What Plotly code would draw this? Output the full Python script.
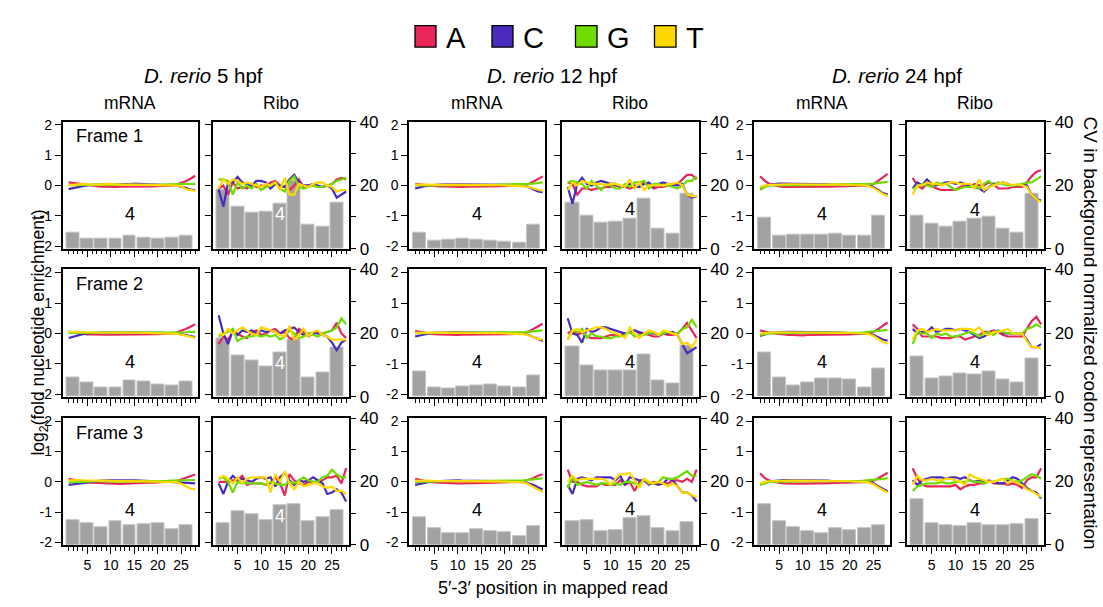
import plotly.graph_objects as go

# ---------------------------------------------------------------- data
read_pos = list(range(1, 29))                 # 5'-3' nucleotide position in the read
codon_pos = [2, 5, 8, 11, 14, 17, 20, 23, 26]  # centre of each codon window
nucleotides = ["A", "C", "G", "T"]
stages = ["5", "12", "24"]
libraries = ["mRNA", "Ribo"]
frames = ["Frame 1", "Frame 2", "Frame 3"]
log2_ticks = [-2, -1, 0, 1, 2]
log2_labels = ["-2", "-1", "0", "1", "2"]
cv_ticks = [0, 20, 40]
cv_minor_ticks = [10, 30]
pos_ticks = [5, 10, 15, 20, 25]
codon_label = "4"
codon_label_index = 4

# log2 fold nucleotide enrichment per position, mRNA libraries
mrna_5_f1 = {
    "A": [0.10, 0.08, 0.05, 0.02, 0.0, -0.02, -0.03, -0.04, -0.04, -0.05, -0.05, -0.04, -0.04, -0.05, -0.05, -0.05, -0.04, -0.04, -0.03, -0.02, -0.02, -0.01, 0.0, 0.03, 0.08, 0.14, 0.22, 0.32],
    "C": [-0.12, -0.08, -0.04, -0.02, 0.0, 0.02, 0.03, 0.03, 0.04, 0.04, 0.03, 0.04, 0.05, 0.04, 0.05, 0.05, 0.04, 0.03, 0.03, 0.02, 0.02, 0.01, 0.0, 0.0, -0.03, -0.08, -0.14, -0.15],
    "G": [0.02, 0.0, 0.01, 0.02, 0.02, 0.03, 0.03, 0.02, 0.02, 0.02, 0.03, 0.03, 0.02, 0.02, 0.01, 0.02, 0.02, 0.02, 0.03, 0.03, 0.03, 0.04, 0.04, 0.04, 0.05, 0.05, 0.05, 0.05],
    "T": [0.0, 0.02, 0.04, 0.05, 0.04, 0.03, 0.04, 0.03, 0.05, 0.04, 0.03, 0.02, 0.02, 0.03, 0.02, 0.01, 0.02, 0.02, 0.01, 0.01, 0.0, 0.0, 0.0, 0.0, -0.02, -0.12, -0.16, -0.18],
}
mrna_5_f2 = {
    "A": [0.05, 0.03, 0.0, -0.02, -0.03, -0.03, -0.04, -0.04, -0.04, -0.04, -0.04, -0.04, -0.03, -0.03, -0.03, -0.03, -0.03, -0.02, -0.02, -0.02, -0.01, -0.01, 0.0, 0.03, 0.08, 0.15, 0.22, 0.30],
    "C": [-0.15, -0.10, -0.05, -0.02, 0.0, 0.02, 0.03, 0.04, 0.04, 0.04, 0.04, 0.04, 0.04, 0.04, 0.04, 0.03, 0.03, 0.03, 0.02, 0.02, 0.02, 0.01, 0.01, 0.0, -0.02, -0.06, -0.10, -0.12],
    "G": [0.02, 0.02, 0.02, 0.02, 0.02, 0.02, 0.02, 0.02, 0.02, 0.02, 0.02, 0.02, 0.02, 0.02, 0.02, 0.02, 0.02, 0.02, 0.02, 0.03, 0.03, 0.03, 0.03, 0.03, 0.04, 0.04, 0.05, 0.05],
    "T": [0.05, 0.06, 0.05, 0.04, 0.04, 0.04, 0.03, 0.03, 0.03, 0.03, 0.03, 0.03, 0.02, 0.02, 0.02, 0.02, 0.02, 0.02, 0.01, 0.01, 0.01, 0.0, 0.0, -0.01, -0.04, -0.08, -0.12, -0.14],
}
mrna_5_f3 = {
    "A": [0.10, 0.07, 0.03, 0.0, -0.02, -0.03, -0.04, -0.05, -0.05, -0.06, -0.06, -0.07, -0.06, -0.05, -0.05, -0.04, -0.04, -0.03, -0.03, -0.02, -0.02, -0.01, 0.0, 0.02, 0.08, 0.14, 0.18, 0.24],
    "C": [-0.10, -0.08, -0.05, -0.02, 0.0, 0.02, 0.03, 0.04, 0.05, 0.06, 0.05, 0.05, 0.04, 0.05, 0.05, 0.04, 0.03, 0.03, 0.02, 0.02, 0.01, 0.01, 0.0, 0.0, -0.02, -0.03, -0.05, -0.05],
    "G": [-0.02, -0.01, 0.0, 0.01, 0.02, 0.02, 0.02, 0.02, 0.01, 0.01, 0.01, 0.01, 0.01, 0.01, 0.01, 0.02, 0.02, 0.02, 0.02, 0.03, 0.03, 0.03, 0.04, 0.04, 0.05, 0.05, 0.06, 0.06],
    "T": [0.05, 0.06, 0.06, 0.05, 0.05, 0.05, 0.06, 0.05, 0.04, 0.03, 0.03, 0.03, 0.03, 0.02, 0.02, 0.02, 0.02, 0.01, 0.01, 0.01, 0.0, 0.0, 0.0, -0.01, -0.06, -0.15, -0.22, -0.25],
}
mrna_12_f1 = {
    "A": [0.05, 0.03, 0.02, 0.0, -0.02, -0.03, -0.03, -0.04, -0.04, -0.04, -0.05, -0.04, -0.04, -0.04, -0.03, -0.03, -0.03, -0.02, -0.02, -0.02, -0.01, -0.01, 0.0, 0.02, 0.05, 0.12, 0.22, 0.30],
    "C": [-0.10, -0.05, -0.02, 0.0, 0.02, 0.03, 0.04, 0.04, 0.05, 0.04, 0.04, 0.04, 0.04, 0.03, 0.03, 0.03, 0.03, 0.02, 0.02, 0.02, 0.01, 0.01, 0.0, -0.01, -0.05, -0.12, -0.20, -0.22],
    "G": [0.0, 0.0, 0.01, 0.01, 0.02, 0.02, 0.02, 0.02, 0.02, 0.02, 0.02, 0.02, 0.02, 0.02, 0.02, 0.02, 0.02, 0.02, 0.03, 0.03, 0.03, 0.03, 0.03, 0.04, 0.05, 0.06, 0.08, 0.10],
    "T": [0.03, 0.03, 0.03, 0.03, 0.02, 0.02, 0.02, 0.02, 0.02, 0.02, 0.02, 0.02, 0.02, 0.02, 0.01, 0.01, 0.01, 0.01, 0.01, 0.0, 0.0, 0.0, 0.0, -0.02, -0.05, -0.10, -0.15, -0.18],
}
mrna_12_f2 = {
    "A": [0.08, 0.05, 0.02, 0.0, -0.02, -0.03, -0.04, -0.04, -0.04, -0.05, -0.04, -0.04, -0.04, -0.03, -0.03, -0.03, -0.03, -0.02, -0.02, -0.02, -0.02, -0.01, 0.0, 0.02, 0.06, 0.14, 0.24, 0.32],
    "C": [-0.10, -0.06, -0.02, 0.0, 0.02, 0.03, 0.04, 0.04, 0.04, 0.04, 0.04, 0.04, 0.04, 0.03, 0.03, 0.03, 0.03, 0.02, 0.02, 0.02, 0.01, 0.01, 0.0, -0.01, -0.05, -0.12, -0.20, -0.25],
    "G": [0.0, 0.01, 0.01, 0.01, 0.02, 0.02, 0.02, 0.02, 0.02, 0.02, 0.02, 0.02, 0.02, 0.02, 0.02, 0.02, 0.02, 0.02, 0.03, 0.03, 0.03, 0.03, 0.03, 0.04, 0.05, 0.07, 0.08, 0.10],
    "T": [0.02, 0.03, 0.03, 0.03, 0.03, 0.03, 0.03, 0.02, 0.02, 0.02, 0.02, 0.02, 0.02, 0.02, 0.02, 0.01, 0.01, 0.01, 0.01, 0.0, 0.0, 0.0, 0.0, -0.02, -0.06, -0.12, -0.18, -0.20],
}
mrna_12_f3 = {
    "A": [0.10, 0.06, 0.03, 0.0, -0.02, -0.03, -0.04, -0.05, -0.05, -0.05, -0.05, -0.05, -0.04, -0.04, -0.04, -0.03, -0.03, -0.03, -0.02, -0.02, -0.02, -0.01, 0.0, 0.02, 0.06, 0.12, 0.20, 0.25],
    "C": [-0.10, -0.06, -0.03, 0.0, 0.02, 0.03, 0.04, 0.04, 0.05, 0.05, 0.04, 0.04, 0.04, 0.04, 0.03, 0.03, 0.03, 0.02, 0.02, 0.02, 0.01, 0.01, 0.0, -0.01, -0.05, -0.10, -0.18, -0.25],
    "G": [-0.02, 0.0, 0.01, 0.01, 0.02, 0.02, 0.02, 0.02, 0.02, 0.02, 0.02, 0.02, 0.02, 0.02, 0.02, 0.02, 0.02, 0.02, 0.03, 0.03, 0.03, 0.03, 0.04, 0.05, 0.06, 0.08, 0.10, 0.12],
    "T": [0.03, 0.04, 0.04, 0.04, 0.03, 0.03, 0.03, 0.03, 0.03, 0.03, 0.02, 0.02, 0.02, 0.02, 0.02, 0.02, 0.01, 0.01, 0.01, 0.01, 0.0, 0.0, 0.0, -0.02, -0.08, -0.16, -0.26, -0.34],
}
mrna_24_f1 = {
    "A": [0.30, 0.15, 0.05, 0.0, -0.03, -0.05, -0.05, -0.06, -0.06, -0.06, -0.05, -0.05, -0.05, -0.04, -0.04, -0.04, -0.03, -0.03, -0.03, -0.02, -0.02, -0.02, -0.01, 0.0, 0.05, 0.15, 0.28, 0.38],
    "C": [-0.12, -0.02, 0.03, 0.05, 0.06, 0.06, 0.06, 0.06, 0.05, 0.05, 0.05, 0.05, 0.04, 0.04, 0.04, 0.03, 0.03, 0.03, 0.02, 0.02, 0.02, 0.02, 0.01, 0.0, -0.05, -0.15, -0.25, -0.30],
    "G": [-0.15, -0.05, 0.0, 0.0, 0.01, 0.01, 0.01, 0.01, 0.02, 0.02, 0.02, 0.02, 0.02, 0.02, 0.02, 0.03, 0.03, 0.03, 0.03, 0.03, 0.03, 0.03, 0.04, 0.05, 0.06, 0.08, 0.10, 0.12],
    "T": [-0.05, 0.0, 0.02, 0.03, 0.04, 0.04, 0.04, 0.04, 0.04, 0.04, 0.04, 0.03, 0.03, 0.03, 0.03, 0.02, 0.02, 0.02, 0.02, 0.02, 0.01, 0.01, 0.0, -0.02, -0.08, -0.18, -0.28, -0.35],
}
mrna_24_f2 = {
    "A": [0.10, 0.05, 0.02, 0.0, -0.02, -0.04, -0.05, -0.05, -0.06, -0.06, -0.05, -0.05, -0.05, -0.04, -0.04, -0.04, -0.04, -0.03, -0.03, -0.03, -0.02, -0.02, -0.01, 0.0, 0.05, 0.14, 0.26, 0.36],
    "C": [-0.08, -0.02, 0.02, 0.04, 0.05, 0.05, 0.05, 0.05, 0.05, 0.05, 0.05, 0.04, 0.04, 0.04, 0.04, 0.03, 0.03, 0.03, 0.02, 0.02, 0.02, 0.01, 0.01, 0.0, -0.05, -0.12, -0.20, -0.24],
    "G": [-0.05, -0.02, 0.0, 0.01, 0.01, 0.01, 0.02, 0.02, 0.02, 0.02, 0.02, 0.02, 0.02, 0.02, 0.02, 0.03, 0.03, 0.03, 0.03, 0.03, 0.03, 0.03, 0.04, 0.05, 0.06, 0.08, 0.10, 0.12],
    "T": [0.0, 0.02, 0.03, 0.04, 0.04, 0.04, 0.04, 0.04, 0.04, 0.04, 0.03, 0.03, 0.03, 0.03, 0.03, 0.02, 0.02, 0.02, 0.02, 0.02, 0.01, 0.01, 0.0, -0.02, -0.08, -0.18, -0.28, -0.34],
}
mrna_24_f3 = {
    "A": [0.28, 0.12, 0.04, 0.0, -0.03, -0.05, -0.06, -0.06, -0.06, -0.06, -0.05, -0.05, -0.05, -0.05, -0.04, -0.04, -0.04, -0.03, -0.03, -0.03, -0.02, -0.02, -0.01, 0.0, 0.04, 0.12, 0.22, 0.30],
    "C": [-0.10, -0.02, 0.02, 0.04, 0.05, 0.06, 0.06, 0.06, 0.05, 0.05, 0.05, 0.05, 0.04, 0.04, 0.04, 0.03, 0.03, 0.03, 0.03, 0.02, 0.02, 0.02, 0.01, 0.0, -0.05, -0.14, -0.24, -0.32],
    "G": [-0.10, -0.04, 0.0, 0.01, 0.01, 0.01, 0.01, 0.02, 0.02, 0.02, 0.02, 0.02, 0.02, 0.02, 0.02, 0.03, 0.03, 0.03, 0.03, 0.03, 0.03, 0.03, 0.04, 0.05, 0.06, 0.08, 0.10, 0.12],
    "T": [-0.05, 0.0, 0.02, 0.03, 0.04, 0.04, 0.04, 0.04, 0.04, 0.04, 0.04, 0.03, 0.03, 0.03, 0.03, 0.02, 0.02, 0.02, 0.02, 0.02, 0.01, 0.01, 0.0, -0.02, -0.08, -0.18, -0.28, -0.36],
}

# log2 fold nucleotide enrichment per position, ribosome footprints
ribo_5_f1 = {
    "A": [-0.10, 0.0, -0.30, 0.10, -0.10, -0.05, -0.10, 0.05, -0.05, 0.0, -0.05, 0.10, 0.15, 0.0, -0.05, -0.15, 0.0, 0.20, -0.05, 0.0, 0.0, -0.05, -0.05, 0.0, 0.05, 0.20, 0.25, 0.20],
    "C": [-0.13, -0.70, 0.10, 0.10, 0.28, 0.10, 0.05, 0.0, 0.15, 0.15, 0.10, -0.10, 0.05, 0.0, -0.05, 0.20, 0.35, 0.10, 0.0, 0.0, 0.05, 0.0, -0.05, 0.0, -0.10, -0.40, -0.30, -0.20],
    "G": [0.20, 0.20, 0.15, -0.30, 0.10, -0.10, 0.0, -0.10, 0.05, -0.15, -0.05, 0.0, 0.10, -0.10, -0.20, 0.15, 0.30, -0.05, -0.10, -0.05, 0.0, -0.05, -0.05, 0.0, 0.05, 0.15, 0.20, 0.25],
    "T": [-0.10, 0.20, 0.05, 0.20, 0.15, 0.05, 0.10, 0.05, 0.0, -0.05, 0.05, 0.0, 0.10, -0.15, 0.25, -0.30, -0.30, 0.05, 0.0, -0.05, 0.05, 0.10, 0.10, 0.0, -0.05, -0.20, -0.15, -0.15],
}
ribo_5_f2 = {
    "A": [-0.35, -0.10, -0.20, 0.05, 0.0, -0.10, -0.15, 0.05, 0.10, -0.05, 0.0, 0.10, 0.15, 0.0, 0.05, -0.15, -0.20, 0.15, 0.05, -0.10, 0.0, 0.05, 0.0, 0.05, 0.10, 0.35, 0.0, -0.15],
    "C": [0.60, 0.0, -0.35, 0.10, -0.05, 0.10, 0.05, 0.10, 0.0, 0.10, 0.05, 0.10, 0.05, 0.0, 0.10, 0.15, 0.20, 0.05, -0.05, 0.0, 0.0, 0.0, -0.05, -0.10, -0.30, -0.55, -0.30, -0.20],
    "G": [-0.10, 0.0, 0.05, 0.15, -0.25, -0.15, -0.10, -0.10, -0.05, -0.10, -0.05, -0.10, -0.05, -0.20, -0.10, 0.10, 0.0, -0.15, -0.10, 0.0, -0.05, -0.10, 0.0, 0.05, 0.10, 0.20, 0.50, 0.30],
    "T": [0.0, -0.05, 0.15, 0.0, 0.10, 0.20, 0.10, 0.0, -0.05, 0.20, 0.15, 0.10, 0.05, -0.05, -0.10, 0.25, -0.20, -0.05, 0.15, -0.10, 0.05, 0.10, -0.05, -0.10, -0.20, -0.20, -0.20, -0.20],
}
ribo_5_f3 = {
    "A": [0.0, 0.0, 0.0, 0.05, 0.05, 0.20, -0.10, -0.05, -0.05, -0.05, -0.10, -0.05, 0.15, -0.05, -0.45, 0.25, 0.05, -0.05, -0.10, 0.0, 0.0, 0.0, 0.05, 0.15, 0.15, 0.20, -0.05, 0.45],
    "C": [-0.05, -0.40, 0.0, 0.20, 0.05, 0.10, 0.05, 0.0, 0.10, 0.15, 0.10, 0.15, -0.15, 0.15, 0.30, 0.05, -0.10, 0.05, 0.0, 0.05, 0.15, 0.05, -0.05, -0.40, -0.35, -0.25, -0.35, -0.65],
    "G": [0.10, 0.15, 0.0, -0.35, 0.0, -0.05, -0.05, -0.05, -0.05, -0.05, -0.10, 0.0, -0.05, -0.10, -0.10, 0.0, -0.05, 0.05, 0.15, 0.05, 0.0, 0.0, 0.15, 0.20, 0.40, 0.25, 0.15, 0.15],
    "T": [0.10, 0.20, 0.10, -0.05, 0.15, -0.05, 0.10, 0.15, 0.15, 0.15, 0.15, -0.35, 0.25, 0.0, 0.35, -0.05, -0.25, 0.0, -0.15, -0.10, -0.05, -0.05, -0.15, -0.20, -0.15, -0.30, -0.30, -0.40],
}
ribo_12_f1 = {
    "A": [0.10, 0.05, -0.30, -0.10, -0.10, -0.15, -0.10, -0.10, -0.05, -0.05, 0.0, -0.05, -0.05, -0.10, -0.05, -0.05, 0.10, 0.05, -0.10, -0.05, -0.05, 0.0, 0.05, 0.05, 0.20, 0.35, 0.35, 0.20],
    "C": [-0.05, -0.60, 0.05, 0.25, 0.05, 0.0, 0.10, 0.15, 0.10, 0.05, 0.05, -0.05, -0.05, 0.05, 0.0, -0.05, 0.05, 0.10, -0.05, 0.05, 0.10, 0.05, 0.0, 0.0, 0.05, -0.30, -0.40, -0.35],
    "G": [0.10, 0.15, 0.10, 0.05, -0.10, 0.15, 0.0, -0.15, 0.05, 0.0, -0.10, -0.10, 0.05, -0.05, 0.10, 0.10, 0.15, -0.10, 0.05, 0.05, 0.0, 0.0, -0.05, -0.10, 0.0, 0.15, 0.15, 0.30],
    "T": [-0.15, 0.10, 0.0, 0.15, 0.10, 0.05, 0.05, 0.05, 0.0, 0.05, 0.05, 0.0, -0.05, 0.20, -0.10, 0.10, -0.15, 0.0, 0.0, 0.0, 0.0, 0.05, 0.05, 0.10, 0.0, -0.30, -0.35, -0.35],
}
ribo_12_f2 = {
    "A": [0.0, 0.10, -0.05, 0.05, -0.10, -0.15, -0.15, -0.15, -0.10, -0.05, -0.05, -0.05, 0.0, 0.05, 0.10, 0.0, 0.0, -0.05, -0.10, -0.10, 0.0, -0.05, -0.05, 0.0, 0.15, 0.35, 0.10, -0.15],
    "C": [0.50, 0.0, -0.05, -0.30, 0.15, 0.05, 0.10, 0.20, 0.20, 0.15, 0.10, 0.05, 0.0, 0.05, 0.10, 0.05, 0.0, 0.0, 0.0, -0.05, 0.0, 0.0, 0.05, -0.05, -0.35, -0.65, -0.55, -0.45],
    "G": [-0.20, 0.10, 0.05, 0.15, -0.15, 0.0, -0.10, -0.10, -0.15, -0.15, -0.10, -0.10, -0.05, 0.05, -0.10, -0.05, -0.05, 0.0, 0.05, -0.05, 0.0, 0.05, 0.0, 0.0, 0.15, 0.20, 0.45, 0.20],
    "T": [-0.20, 0.10, 0.15, 0.05, 0.10, 0.15, 0.20, 0.20, 0.15, 0.05, 0.0, -0.05, -0.15, 0.20, 0.0, -0.15, 0.0, 0.10, 0.05, -0.05, 0.10, 0.05, 0.0, -0.05, -0.35, -0.30, -0.45, -0.20],
}
ribo_12_f3 = {
    "A": [0.40, 0.0, 0.0, -0.10, -0.15, -0.15, -0.15, -0.05, -0.10, -0.10, -0.10, 0.05, -0.10, 0.0, -0.30, 0.0, 0.05, -0.10, 0.0, -0.05, -0.05, -0.05, 0.05, 0.05, 0.0, 0.10, 0.0, 0.40],
    "C": [-0.10, -0.40, 0.10, 0.15, 0.10, 0.05, 0.15, 0.15, 0.15, 0.15, 0.05, 0.20, -0.10, 0.15, 0.10, 0.05, 0.05, -0.05, -0.05, -0.10, -0.05, 0.10, 0.05, -0.15, -0.35, -0.35, -0.45, -0.65],
    "G": [-0.20, 0.15, -0.10, -0.05, 0.0, -0.05, -0.10, -0.05, -0.05, -0.10, -0.05, -0.10, 0.0, 0.0, -0.05, -0.10, 0.10, -0.05, -0.05, 0.0, 0.15, 0.10, 0.10, 0.15, 0.25, 0.35, 0.20, 0.20],
    "T": [0.0, 0.20, 0.05, 0.10, 0.10, 0.10, 0.10, 0.10, 0.05, -0.10, 0.10, 0.25, 0.25, 0.30, 0.05, -0.20, 0.10, 0.0, -0.05, 0.0, -0.05, -0.15, -0.05, -0.15, -0.35, -0.35, -0.45, -0.50],
}
ribo_24_f1 = {
    "A": [0.25, 0.0, -0.10, 0.05, 0.0, -0.10, -0.15, -0.15, -0.15, -0.15, -0.05, 0.0, -0.05, 0.05, 0.0, 0.0, 0.10, 0.05, -0.10, -0.10, -0.10, -0.05, -0.05, -0.05, 0.10, 0.30, 0.45, 0.50],
    "C": [-0.10, 0.10, 0.0, 0.20, 0.05, 0.0, 0.05, 0.10, 0.10, 0.05, 0.10, 0.05, 0.0, -0.05, -0.10, -0.20, -0.05, 0.05, 0.05, 0.10, 0.05, 0.0, 0.0, 0.05, 0.0, -0.30, -0.45, -0.50],
    "G": [-0.10, -0.05, 0.05, 0.0, -0.05, 0.10, 0.05, 0.05, -0.05, -0.15, -0.10, -0.05, -0.05, 0.0, -0.10, 0.05, 0.15, 0.0, 0.10, 0.05, 0.0, 0.0, 0.0, 0.05, 0.10, 0.10, 0.20, 0.30],
    "T": [-0.30, 0.0, 0.0, 0.10, 0.05, 0.05, 0.0, 0.05, 0.10, 0.10, 0.05, 0.05, 0.05, -0.10, 0.20, -0.15, -0.05, 0.0, 0.05, 0.10, 0.05, 0.0, 0.05, 0.0, -0.05, -0.30, -0.45, -0.55],
}
ribo_24_f2 = {
    "A": [0.30, 0.15, -0.10, -0.10, -0.10, -0.10, -0.15, -0.15, -0.15, -0.10, -0.10, -0.20, -0.15, -0.10, -0.05, 0.05, 0.05, 0.10, 0.05, -0.05, -0.10, -0.10, -0.10, -0.10, 0.15, 0.40, 0.55, 0.30],
    "C": [0.15, 0.0, 0.05, 0.05, 0.20, 0.05, 0.10, 0.15, 0.15, 0.10, 0.15, 0.10, 0.05, -0.05, -0.15, -0.10, 0.0, 0.05, 0.10, 0.0, 0.0, 0.0, 0.0, 0.0, -0.20, -0.45, -0.45, -0.35],
    "G": [-0.35, 0.05, 0.0, 0.0, -0.15, 0.0, -0.05, 0.0, -0.10, -0.10, -0.05, 0.0, 0.05, 0.0, -0.10, 0.0, 0.05, -0.05, 0.10, 0.05, 0.0, 0.0, 0.0, 0.0, 0.15, 0.20, 0.30, 0.20],
    "T": [-0.20, 0.10, 0.15, 0.05, 0.10, 0.15, 0.10, 0.10, 0.10, 0.10, 0.15, 0.15, 0.15, 0.10, 0.20, 0.0, -0.05, 0.05, 0.05, 0.10, 0.15, 0.0, 0.0, 0.0, -0.25, -0.45, -0.45, -0.50],
}
ribo_24_f3 = {
    "A": [0.45, 0.10, -0.10, -0.15, -0.15, -0.15, -0.15, -0.15, -0.15, -0.10, -0.25, -0.15, -0.10, -0.10, -0.05, -0.05, 0.05, -0.05, -0.05, -0.05, -0.10, -0.05, -0.10, -0.20, 0.05, 0.15, 0.15, 0.45],
    "C": [0.05, -0.10, 0.05, 0.10, 0.15, 0.15, 0.15, 0.10, 0.15, 0.15, 0.10, 0.15, 0.05, 0.0, 0.05, 0.0, 0.0, 0.0, -0.05, -0.05, 0.05, 0.15, 0.10, -0.05, -0.20, -0.30, -0.35, -0.55],
    "G": [-0.30, -0.15, -0.10, -0.05, -0.05, -0.05, 0.0, -0.05, -0.05, 0.0, 0.0, 0.0, 0.05, 0.0, 0.0, -0.05, 0.0, 0.0, 0.05, 0.10, 0.10, 0.05, 0.0, 0.05, 0.15, 0.25, 0.20, 0.10],
    "T": [-0.10, 0.20, 0.05, 0.05, 0.10, 0.05, 0.05, 0.10, 0.10, 0.05, 0.0, -0.10, 0.25, 0.15, 0.10, 0.05, 0.0, 0.0, 0.05, 0.10, -0.05, 0.05, -0.05, -0.10, -0.25, -0.30, -0.40, -0.50],
}

# CV in background-normalised codon representation (one value per codon window)
cv_mrna_5_f1 = [4.9, 3.0, 3.1, 3.1, 4.1, 3.6, 3.0, 3.5, 4.1]
cv_mrna_5_f2 = [6.0, 4.4, 2.8, 2.8, 5.0, 4.7, 3.8, 3.5, 4.7]
cv_mrna_5_f3 = [7.7, 6.9, 5.6, 7.5, 6.1, 6.6, 6.9, 5.1, 6.3]
cv_ribo_5_f1 = [18.5, 13.3, 11.3, 11.8, 14.3, 21.3, 7.5, 7.0, 14.6]
cv_ribo_5_f2 = [18.3, 13.1, 11.4, 9.5, 14.0, 18.0, 6.2, 7.6, 15.6]
cv_ribo_5_f3 = [6.9, 10.8, 9.6, 7.8, 12.4, 13.0, 7.6, 8.9, 11.0]
cv_mrna_12_f1 = [5.1, 2.5, 2.9, 3.2, 2.9, 2.5, 2.2, 1.9, 7.6]
cv_mrna_12_f2 = [7.9, 2.8, 2.5, 3.2, 3.5, 3.8, 3.2, 2.8, 6.6]
cv_mrna_12_f3 = [8.9, 5.4, 3.8, 3.8, 5.1, 4.4, 4.1, 2.9, 6.0]
cv_ribo_12_f1 = [14.4, 10.3, 8.3, 8.6, 9.6, 15.9, 6.2, 4.8, 17.3]
cv_ribo_12_f2 = [15.8, 9.7, 8.2, 8.2, 8.2, 13.3, 5.0, 4.3, 16.2]
cv_ribo_12_f3 = [7.6, 7.9, 4.4, 4.8, 8.5, 9.2, 5.3, 4.4, 7.2]
cv_mrna_24_f1 = [9.8, 4.0, 4.3, 4.3, 4.3, 4.6, 4.0, 4.0, 10.5]
cv_mrna_24_f2 = [14.0, 6.0, 3.5, 4.4, 5.7, 5.7, 5.4, 2.8, 8.8]
cv_mrna_24_f3 = [12.7, 7.6, 5.7, 4.4, 3.8, 5.4, 4.8, 5.4, 6.3]
cv_ribo_24_f1 = [10.5, 8.0, 6.9, 8.4, 9.4, 10.2, 6.3, 5.1, 17.4]
cv_ribo_24_f2 = [12.7, 5.9, 6.4, 7.2, 7.1, 7.9, 5.6, 4.5, 12.0]
cv_ribo_24_f3 = [14.5, 6.9, 6.1, 5.8, 6.9, 6.1, 6.1, 6.4, 8.2]

line_sets = {
    ("5", "mRNA"): [mrna_5_f1, mrna_5_f2, mrna_5_f3],
    ("5", "Ribo"): [ribo_5_f1, ribo_5_f2, ribo_5_f3],
    ("12", "mRNA"): [mrna_12_f1, mrna_12_f2, mrna_12_f3],
    ("12", "Ribo"): [ribo_12_f1, ribo_12_f2, ribo_12_f3],
    ("24", "mRNA"): [mrna_24_f1, mrna_24_f2, mrna_24_f3],
    ("24", "Ribo"): [ribo_24_f1, ribo_24_f2, ribo_24_f3],
}
cv_sets = {
    ("5", "mRNA"): [cv_mrna_5_f1, cv_mrna_5_f2, cv_mrna_5_f3],
    ("5", "Ribo"): [cv_ribo_5_f1, cv_ribo_5_f2, cv_ribo_5_f3],
    ("12", "mRNA"): [cv_mrna_12_f1, cv_mrna_12_f2, cv_mrna_12_f3],
    ("12", "Ribo"): [cv_ribo_12_f1, cv_ribo_12_f2, cv_ribo_12_f3],
    ("24", "mRNA"): [cv_mrna_24_f1, cv_mrna_24_f2, cv_mrna_24_f3],
    ("24", "Ribo"): [cv_ribo_24_f1, cv_ribo_24_f2, cv_ribo_24_f3],
}

# ---------------------------------------------------------------- style
FONT = "Liberation Sans, Arial, Helvetica, sans-serif"
nt_colors = {"A": "#E8265A", "C": "#4B2BBE", "G": "#6FDC00", "T": "#FFD800"}
BAR_FILL = "#A2A2A2"
BAR_EDGE = "#C4C4C4"
W, H = 1103, 607
# panel boxes in pixels (left, right) per column and (top, bottom) per row
col_px = [(62.5, 197.5), (212.5, 348.5), (409, 545), (561.5, 699), (754, 890), (906.5, 1043.5)]
row_px = [(116.3, 247.4), (268.9, 400.4), (422.4, 553.2)]
X_RANGE = [-0.3, 28.5]
LOG2_RANGE = [-2.08, 2.1]
CV_RANGE = [0, 40]
LABEL_DEFAULT_Y = -0.94   # log2 position of the codon window label
LABEL_INSIDE_CV = 11.0    # bars taller than this carry the label inside (white)


def px(x):
    return x / W


def py(y):
    return 1 - y / H


def cv_to_log2(v):
    frac = (v - CV_RANGE[0]) / (CV_RANGE[1] - CV_RANGE[0])
    return LOG2_RANGE[0] + frac * (LOG2_RANGE[1] - LOG2_RANGE[0])


fig = go.Figure()
layout = {}
annotations = []
shapes = []

for r in range(3):
    for si, st in enumerate(stages):
        for li, lib in enumerate(libraries):
            c = 2 * si + li
            k = r * 6 + c
            xn = "x" if k == 0 else f"x{k + 1}"
            yb = 2 * k + 1
            yo = 2 * k + 2
            ybn = "y" if yb == 1 else f"y{yb}"
            yon = f"y{yo}"
            cv = cv_sets[(st, lib)][r]
            lines = line_sets[(st, lib)][r]

            fig.add_trace(go.Bar(
                x=codon_pos, y=cv, width=2.75,
                marker=dict(color=BAR_FILL, line=dict(color=BAR_EDGE, width=1)),
                xaxis=xn, yaxis=ybn, showlegend=False, hoverinfo="skip"))
            for nt in nucleotides:
                fig.add_trace(go.Scatter(
                    x=read_pos, y=lines[nt], mode="lines",
                    line=dict(color=nt_colors[nt], width=2.2),
                    xaxis=xn, yaxis=yon, showlegend=False, name=nt))

            x0, x1 = col_px[c]
            y0, y1 = row_px[r]
            layout["xaxis" if k == 0 else f"xaxis{k + 1}"] = dict(
                domain=[px(x0), px(x1)], anchor=ybn, range=X_RANGE,
                showline=True, mirror=True, linecolor="black", linewidth=1.5,
                showgrid=False, zeroline=False,
                tickmode="array", tickvals=pos_ticks, ticks="outside",
                ticklen=7, tickwidth=1.3, tickcolor="black",
                showticklabels=(r == 2), tickfont=dict(size=14, family=FONT),
                minor=dict(tickmode="array", tickvals=read_pos, ticks="outside",
                           ticklen=4, tickwidth=1.3, tickcolor="black", showgrid=False),
            )
            cv_axis = dict(
                domain=[py(y1), py(y0)], anchor=xn, range=CV_RANGE, side="right",
                showline=True, mirror=True, linecolor="black", linewidth=1.5,
                showgrid=False, zeroline=False,
            )
            if lib == "Ribo":
                cv_axis.update(tickmode="array", tickvals=cv_ticks,
                               ticks="outside", ticklen=6, tickwidth=1.3, tickcolor="black",
                               tickfont=dict(size=17, family=FONT),
                               minor=dict(tickmode="array", tickvals=cv_minor_ticks,
                                          ticks="outside", ticklen=6, tickwidth=1.3,
                                          tickcolor="black", showgrid=False))
            else:
                cv_axis.update(ticks="", showticklabels=False)
            layout["yaxis" if yb == 1 else f"yaxis{yb}"] = cv_axis
            layout[f"yaxis{yo}"] = dict(
                overlaying=ybn, anchor=xn, side="left", range=LOG2_RANGE,
                showline=True, linecolor="black", linewidth=1.5,
                showgrid=False, zeroline=False,
                tickmode="array", tickvals=log2_ticks, ticktext=log2_labels,
                ticks="outside", ticklen=6, tickwidth=1.3, tickcolor="black",
                showticklabels=(lib == "mRNA"), tickfont=dict(size=14, family=FONT),
            )

            # codon window label: inside a tall bar (white) or just above it
            label_cv = cv[codon_label_index]
            bar_top = cv_to_log2(label_cv)
            inside = label_cv > LABEL_INSIDE_CV
            if inside:
                label_y = min(LABEL_DEFAULT_Y, bar_top - 0.35)
            else:
                label_y = max(LABEL_DEFAULT_Y, bar_top + 0.30)
            annotations.append(dict(
                x=codon_pos[codon_label_index], y=label_y, xref=xn, yref=yon,
                text=codon_label, showarrow=False, yanchor="middle",
                font=dict(size=18, family=FONT, color="white" if inside else "black")))

            if c == 0:
                annotations.append(dict(
                    x=px(x0 + 11), y=py(y0 + 15), xref="paper", yref="paper",
                    text=frames[r], showarrow=False, xanchor="left", yanchor="middle",
                    font=dict(size=18, family=FONT, color="black")))
            if r == 0:
                annotations.append(dict(
                    x=px((x0 + x1) / 2), y=py(97.5), xref="paper", yref="paper",
                    text=lib, showarrow=False, xanchor="center", yanchor="middle",
                    font=dict(size=17.5, family=FONT, color="black")))

# stage titles
for si, st in enumerate(stages):
    xc = (col_px[2 * si][0] + col_px[2 * si + 1][1]) / 2 - 2
    annotations.append(dict(
        x=px(xc), y=py(68.5), xref="paper", yref="paper",
        text=f"<i>D. rerio</i> {st} hpf", showarrow=False,
        xanchor="center", yanchor="middle",
        font=dict(size=20.5, family=FONT, color="black")))

# nucleotide key
key_boxes = [(415, 436), (492, 513), (575.5, 597), (654.5, 676)]
for nt, (bx0, bx1) in zip(nucleotides, key_boxes):
    shapes.append(dict(type="rect", xref="paper", yref="paper",
                       x0=px(bx0), x1=px(bx1), y0=py(39.3), y1=py(17.2),
                       fillcolor=nt_colors[nt], line=dict(color="black", width=1.3)))
    annotations.append(dict(
        x=px(bx1 + 8), y=py(29.5), xref="paper", yref="paper", text=nt,
        showarrow=False, xanchor="left", yanchor="middle",
        font=dict(size=29, family=FONT, color="black")))

# axis titles
annotations.append(dict(
    x=px(40), y=py(334), xref="paper", yref="paper",
    text="log<sub>2</sub>(fold nucleotide enrichment)", textangle=-90,
    showarrow=False, xanchor="center", yanchor="middle",
    font=dict(size=17.5, family=FONT, color="black")))
annotations.append(dict(
    x=px(1090), y=py(334), xref="paper", yref="paper",
    text="CV in background normalized codon representation", textangle=90,
    showarrow=False, xanchor="center", yanchor="middle",
    font=dict(size=19, family=FONT, color="black")))
annotations.append(dict(
    x=px(553), y=py(598), xref="paper", yref="paper",
    text="5\u2032-3\u2032 position in mapped read",
    showarrow=False, xanchor="center", yanchor="middle",
    font=dict(size=18, family=FONT, color="black")))

fig.update_layout(
    width=W, height=H, margin=dict(l=0, r=0, t=0, b=0),
    paper_bgcolor="white", plot_bgcolor="white",
    showlegend=False, bargap=0, annotations=annotations, shapes=shapes,
    font=dict(family=FONT, color="black"),
    **layout,
)

fig.write_html("out.html")
